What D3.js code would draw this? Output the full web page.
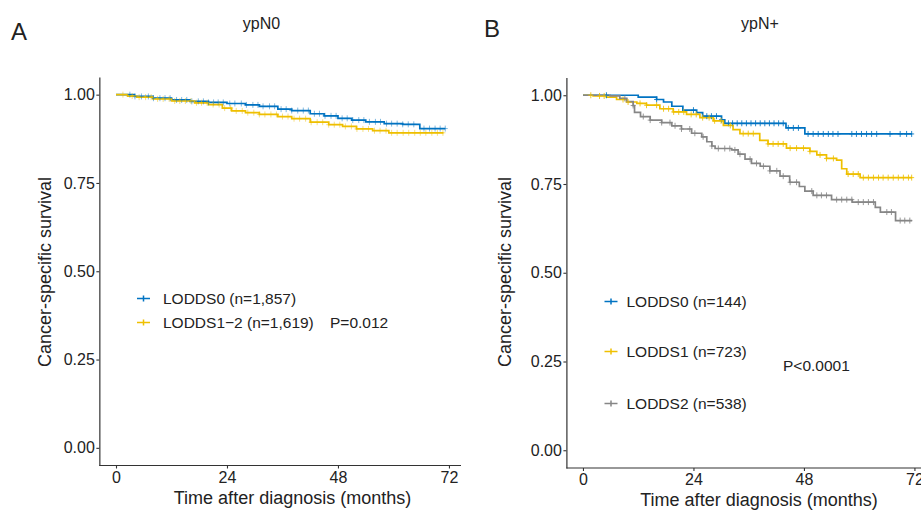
<!DOCTYPE html>
<html>
<head>
<meta charset="utf-8">
<script src="https://cdn.jsdelivr.net/npm/d3@7"></script>
<style>
  body { margin: 0; background: #fff; }
  svg { display: block; font-family: "Liberation Sans", Arial, Helvetica, sans-serif; }
</style>
</head>
<body>
<svg id="chart" width="921" height="511"></svg>
<script>
// ---- data ----
var xTicks = [0, 24, 48, 72];
var yTicks = [0, 0.25, 0.5, 0.75, 1];

// panel A (ypN0): step points [month, survival]
var aLodds0 = [[0,1],[4,0.995],[8,0.99],[12,0.985],[16,0.981],[20,0.978],[24,0.975],[28,0.971],[31,0.967],[35,0.959],
  [38,0.955],[42,0.946],[45,0.94],[48,0.933],[51,0.928],[54,0.923],[58,0.918],[62,0.916],[65.7,0.904],[71.2,0.904]];
var aLodds12 = [[0,1],[2.5,0.996],[4.5,0.993],[8,0.988],[12,0.982],[17,0.977],[20,0.972],[23,0.962],[25,0.954],[28,0.949],
  [31,0.944],[35,0.938],[38,0.932],[42,0.922],[46,0.915],[49,0.91],[52,0.903],[55.5,0.898],[59,0.892],[70.8,0.892]];
var aCens0 = [3.0,4.1,5.5,7.0,8.1,9.5,10.6,11.7,13.1,14.2,15.3,16.4,17.8,18.9,20.0,21.1,22.1,23.2,24.6,25.7,27.1,28.2,
  29.6,30.7,31.8,33.2,34.3,35.7,36.8,38.0,39.3,40.5,41.6,42.9,44.0,45.2,46.5,47.6,48.9,50.0,51.2,52.5,53.6,54.8,56.1,
  57.2,58.5,59.6,60.8,62.0,63.2,64.4,66.6,67.8,69.0,70.1,71.2];
var aCens12 = [1.5,3.5,5.0,6.4,7.6,9.0,10.2,11.5,12.7,13.8,15.0,16.2,17.4,18.5,19.7,21.0,22.3,23.5,24.8,26.0,27.3,28.5,
  29.8,31.0,32.2,33.5,34.7,36.0,37.2,38.5,39.7,41.0,42.2,43.5,44.7,46.0,47.2,48.4,49.6,50.9,52.1,53.4,54.6,55.9,57.1,
  58.4,59.6,60.8,62.1,63.3,64.6,65.8,67.0,68.3,69.5,70.7];

// panel B (ypN+)
var bLodds0 = [[0,1],[12,0.995],[16,0.988],[17.5,0.981],[19.3,0.969],[21.7,0.958],[24.7,0.951],[26,0.941],[30.1,0.931],
  [30.8,0.921],[44.1,0.908],[48.2,0.891],[71.5,0.891]];
var bLodds1 = [[0,1],[2.2,0.998],[5.1,0.995],[7.3,0.988],[9.5,0.981],[11.7,0.977],[13.8,0.972],[16.7,0.962],[19.6,0.953],
  [22.5,0.946],[25.4,0.937],[28.3,0.928],[30.5,0.915],[32.6,0.903],[34.1,0.892],[38.4,0.873],[40.2,0.863],[44.2,0.851],
  [49.3,0.842],[50.8,0.832],[52.9,0.822],[55.1,0.817],[56.2,0.793],[57.3,0.778],[60.2,0.768],[71.5,0.768]];
var bLodds2 = [[0,1],[5.9,0.998],[8,0.991],[9.5,0.982],[10.9,0.971],[11.2,0.952],[12.5,0.94],[14.6,0.93],[17.1,0.923],
  [19.3,0.914],[21.4,0.905],[23.6,0.893],[25.8,0.883],[26.9,0.869],[28,0.857],[28.7,0.85],[32.3,0.846],[33.7,0.834],
  [35.2,0.82],[36.6,0.808],[38.5,0.8],[40.6,0.787],[42.8,0.772],[44.9,0.755],[47,0.743],[48.2,0.73],[50,0.718],
  [54,0.706],[58.5,0.699],[63.5,0.684],[64.6,0.671],[67.9,0.647],[71.5,0.647]];
var bCens0 = [5.1,16,24,26.9,27.9,29,30.1,31.6,32.5,33.5,34.5,35.5,36.5,37.5,38.5,39.5,40.5,41.5,42.5,43.5,44.6,45.7,
  46.8,48.9,50.0,51.1,52.2,53.3,54.3,55.4,58.4,59.4,60.5,61.6,62.7,63.8,66.7,68.9,70.3,71.4];
var bCens1 = [1.7,3.6,4.6,8.7,9.8,12.4,13.8,16,17.5,18.6,19.7,20.8,21.9,23.5,24.6,26,27.4,28.6,30,32,34.8,35.9,37,
  40.2,41.3,42.4,43.5,45,46.4,47.9,49.3,51.5,52.9,54.4,57.6,58.7,59.8,60.9,62,63.1,64.2,65.2,66.3,67.4,68.5,69.6,70.7,71.4];
var bCens2 = [9.1,10.9,13.1,14.6,17.1,18.9,20,21.4,23.2,24.3,26.1,28,29.4,30.8,31.9,33,34.1,36.3,37.7,39.2,40.6,42.1,
  43.5,45,46.4,49.7,50.8,51.8,52.9,55.1,56.2,57.3,58.4,59.8,60.9,62,63.1,66,67,68.9,69.9,71];

var colors = { lodds0: "#0073C2", lodds1: "#EFC000", lodds2: "#868686" };

var svg = d3.select("#chart");

function drawPanel(p) {
    var g = svg.append("g");
    var x = d3.scaleLinear().domain([-3.6, 75.6]).range(p.xRange);
    var y = d3.scaleLinear().domain([-0.05, 1.05]).range(p.yRange);

    // y axis
    var yAx = g.append("g").attr("transform", "translate(" + p.xRange[0] + ",0)")
        .call(d3.axisLeft(y).tickValues(yTicks).tickFormat(d3.format(".2f")).tickSize(3).tickSizeOuter(0).tickPadding(1.5));
    // x axis
    var xAx = g.append("g").attr("transform", "translate(0," + p.yRange[0] + ")")
        .call(d3.axisBottom(x).tickValues(xTicks).tickSize(3).tickSizeOuter(0).tickPadding(3));
    xAx.select(".domain").attr("d", "M" + p.xRange[0] + ",0H" + p.xEnd);
    [yAx, xAx].forEach(function (a) {
        a.select(".domain").attr("stroke", "#333").attr("stroke-width", 1.2);
        a.selectAll(".tick line").attr("stroke", "#333").attr("stroke-width", 1.1);
        a.selectAll(".tick text").attr("fill", "#222").style("font-size", "16px");
    });

    var line = d3.line().curve(d3.curveStepAfter)
        .x(function (d) { return x(d[0]); })
        .y(function (d) { return y(d[1]); });

    p.series.forEach(function (s) {
        g.append("path").datum(s.pts)
            .attr("fill", "none").attr("stroke", s.color).attr("stroke-width", 1.7)
            .attr("d", line);
    });

    // censor marks
    p.series.forEach(function (s) {
        var bis = d3.bisector(function (d) { return d[0]; }).right;
        g.append("g").selectAll("path").data(s.cens).enter().append("path")
            .attr("d", function (t) {
                var v = s.pts[Math.max(0, bis(s.pts, t) - 1)][1];
                var cx = x(t), cy = y(v);
                return "M" + (cx - 2.5) + "," + cy + "H" + (cx + 2.5) + "M" + cx + "," + (cy - 3) + "V" + (cy + 3);
            })
            .attr("stroke", s.color).attr("stroke-width", 1).attr("opacity", p.censOpacity).attr("fill", "none");
    });

    // legend
    p.series.forEach(function (s) {
        g.append("path")
            .attr("d", "M" + (p.keyX - 6.5) + "," + s.ly + "H" + (p.keyX + 6.5) + "M" + p.keyX + "," + (s.ly - 3) + "V" + (s.ly + 3))
            .attr("stroke", s.color).attr("stroke-width", 1.5);
        g.append("text").attr("x", p.textX).attr("y", s.ly + 5.3)
            .attr("fill", "#222").style("font-size", "15.5px").text(s.label);
    });
    g.append("text").attr("x", p.pX).attr("y", p.pY).attr("fill", "#222").style("font-size", "15.5px").text(p.pText);

    // titles
    g.append("text").attr("x", p.titleX).attr("y", 28.5).attr("text-anchor", "middle")
        .attr("fill", "#222").style("font-size", "16px").text(p.title);
    g.append("text").attr("x", p.letterX).attr("y", p.letterY).attr("fill", "#222")
        .style("font-size", "24px").text(p.letter);
    g.append("text").attr("x", p.xTitleX).attr("y", p.yRange[0] + 38).attr("text-anchor", "middle")
        .attr("fill", "#222").style("font-size", "18px").text("Time after diagnosis (months)");
    g.append("text").attr("transform", "translate(" + p.yTitleX + "," + 272 + ") rotate(-90)")
        .attr("text-anchor", "middle").attr("fill", "#222").style("font-size", "18px").text("Cancer-specific survival");
}

drawPanel({
    xRange: [99.35, 465.6], yRange: [465.5, 77], xEnd: 461,
    series: [
        { pts: aLodds0, cens: aCens0, color: colors.lodds0, label: "LODDS0 (n=1,857)", ly: 298.5 },
        { pts: aLodds12, cens: aCens12, color: colors.lodds1, label: "LODDS1\u22122 (n=1,619)", ly: 322.5 }
    ],
    censOpacity: 0.5,
    keyX: 143.5, textX: 163, pX: 330, pY: 328, pText: "P=0.012",
    title: "ypN0", titleX: 261.5, letter: "A", letterX: 11, letterY: 39.5,
    xTitleX: 292.5, yTitleX: 51
});

drawPanel({
    xRange: [566.4, 931], yRange: [468, 77.5], xEnd: 921,
    series: [
        { pts: bLodds0, cens: bCens0, color: colors.lodds0, label: "LODDS0 (n=144)", ly: 301.5 },
        { pts: bLodds1, cens: bCens1, color: colors.lodds1, label: "LODDS1 (n=723)", ly: 351.5 },
        { pts: bLodds2, cens: bCens2, color: colors.lodds2, label: "LODDS2 (n=538)", ly: 403.5 }
    ],
    censOpacity: 0.85,
    keyX: 611, textX: 626.5, pX: 783, pY: 371, pText: "P<0.0001",
    title: "ypN+", titleX: 760, letter: "B", letterX: 484, letterY: 37,
    xTitleX: 759, yTitleX: 511
});
</script>
</body>
</html>
